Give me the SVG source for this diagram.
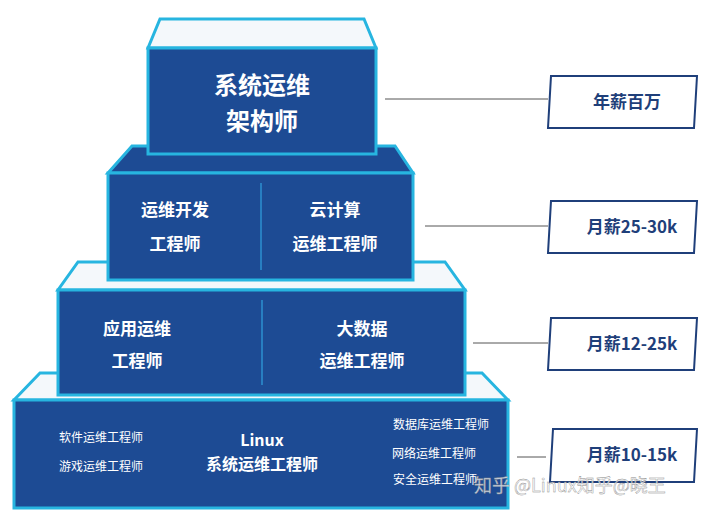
<svg xmlns="http://www.w3.org/2000/svg" width="720" height="515" viewBox="0 0 720 515">
<style>
.front{fill:#1d4b94;stroke:#27b5e0;stroke-width:3}
.topl{fill:#f4f8fb;stroke:#27b5e0;stroke-width:3}
.topd{fill:#1d4b94;stroke:#27b5e0;stroke-width:3}
.div{stroke:#2d8fd0;stroke-width:1.5}
.t{font-family:"Noto Sans CJK SC",sans-serif;font-weight:bold;fill:#fff;text-anchor:middle}
.s{font-family:"Noto Sans CJK SC",sans-serif;fill:#fff;text-anchor:middle;font-size:12px}
.sal{fill:#fff;stroke:#1f3f7a;stroke-width:2}
.st{font-family:"Noto Sans CJK SC",sans-serif;font-weight:bold;fill:#1f3f7a;text-anchor:middle;font-size:17px}
.ln{stroke:#555;stroke-width:1}
</style>
<g id="tier4">
<polygon class="topl" points="40,373 482,373 508,400 14,400"/>
<rect class="front" x="14" y="400" width="494" height="108"/>
<text class="t" x="262" y="446" font-size="16">Linux</text>
<text class="t" x="262" y="470" font-size="16">系统运维工程师</text>
<text class="s" x="101" y="442">软件运维工程师</text>
<text class="s" x="101" y="471">游戏运维工程师</text>
<text class="s" x="441" y="429">数据库运维工程师</text>
<text class="s" x="434" y="458">网络运维工程师</text>
<text class="s" x="435" y="484">安全运维工程师</text>
</g>
<g id="tier3">
<polygon class="topl" points="78,262 445,262 465,290 58,290"/>
<rect class="front" x="58" y="290" width="407" height="105"/>
<line class="div" x1="262" y1="300" x2="262" y2="385"/>
<text class="t" x="137" y="335" font-size="17">应用运维</text>
<text class="t" x="137" y="367" font-size="17">工程师</text>
<text class="t" x="362" y="335" font-size="17">大数据</text>
<text class="t" x="362" y="367" font-size="17">运维工程师</text>
</g>
<g id="tier2">
<polygon class="topd" points="132,146 395,146 413,173 108,173"/>
<rect class="front" x="108" y="173" width="305" height="107"/>
<line class="div" x1="261" y1="183" x2="261" y2="270"/>
<text class="t" x="175" y="216" font-size="17">运维开发</text>
<text class="t" x="175" y="250" font-size="17">工程师</text>
<text class="t" x="335" y="216" font-size="17">云计算</text>
<text class="t" x="335" y="250" font-size="17">运维工程师</text>
</g>
<g id="tier1">
<polygon class="topl" points="160,19 364,19 376,48 148,48"/>
<rect class="front" x="148" y="48" width="228" height="106"/>
<text class="t" x="262" y="94" font-size="24">系统运维</text>
<text class="t" x="262" y="130" font-size="24">架构师</text>
</g>
<g id="connectors">
<line class="ln" x1="385" y1="99" x2="548" y2="99"/>
<line class="ln" x1="425" y1="226" x2="548" y2="226"/>
<line class="ln" x1="473" y1="343" x2="548" y2="343"/>
<line class="ln" x1="517" y1="457" x2="546" y2="457"/>
</g>
<g id="sal1"><polygon class="sal" points="551,76 697,76 694,128 548,128"/><text class="st" x="627" y="108">年薪百万</text></g>
<g id="sal2"><polygon class="sal" points="551,201 697,201 694,253 548,253"/><text class="st" x="632" y="233">月薪25-30k</text></g>
<g id="sal3"><polygon class="sal" points="551,318 697,318 694,370 548,370"/><text class="st" x="632" y="350">月薪12-25k</text></g>
<g id="sal4"><polygon class="sal" points="553,429 697,429 694,482 550,482"/><text class="st" x="632" y="461">月薪10-15k</text></g>
<text x="474" y="492" font-family="Noto Sans CJK SC,sans-serif" font-size="18" fill="#fff" fill-opacity="0.75" stroke="#888" stroke-width="0.4">知乎 @Linux知乎@晓王</text>
</svg>
